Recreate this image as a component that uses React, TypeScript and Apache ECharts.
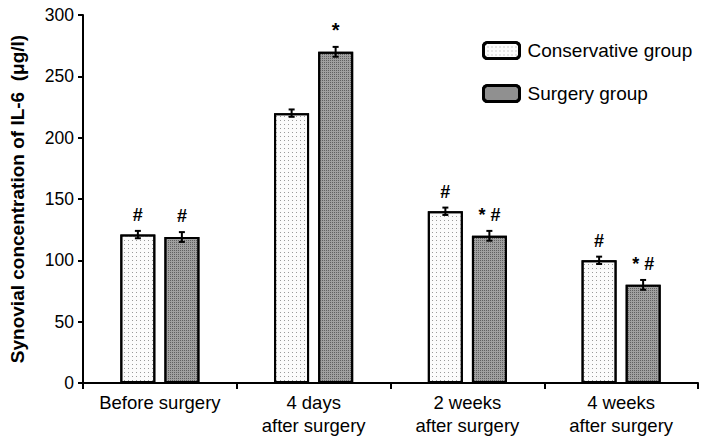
import React, { useEffect, useRef } from "react";
import * as echarts from "echarts";

const categories = ["Before surgery", "4 days\nafter surgery", "2 weeks\nafter surgery", "4 weeks\nafter surgery"];
const conservative = [121, 220, 140, 100];
const conservativeErr = [3, 3, 3, 3];
const surgery = [119, 270, 120, 80];
const surgeryErr = [4, 4, 4, 4];
const conservativeMarks = ["#", "", "#", "#"];
const surgeryMarks = ["#", "*", "* #", "* #"];
const yTicks = [0, 50, 100, 150, 200, 250, 300];

const FONT = "Liberation Sans, Arial, sans-serif";

function errorSeries(name: string, values: number[], errs: number[], offset: number) {
  return {
    type: "custom",
    name: name + "-err",
    z: 10,
    silent: true,
    renderItem: (params: any, api: any) => {
      const i = api.value(0);
      const v = api.value(1);
      const e = api.value(2);
      const top = api.coord([i, v + e]);
      const bot = api.coord([i, v - e]);
      const x = top[0] + offset;
      const cap = 3;
      const style = { stroke: "#000", lineWidth: 2 };
      return {
        type: "group",
        children: [
          { type: "line", shape: { x1: x, y1: top[1], x2: x, y2: bot[1] }, style },
          { type: "line", shape: { x1: x - cap, y1: top[1], x2: x + cap, y2: top[1] }, style },
          { type: "line", shape: { x1: x - cap, y1: bot[1], x2: x + cap, y2: bot[1] }, style },
        ],
      };
    },
    data: values.map((v, i) => [i, v, errs[i]]),
  };
}

export default function App() {
  const ref = useRef<HTMLDivElement>(null);
  useEffect(() => {
    const chart = echarts.init(ref.current!, null, { renderer: "svg" });
    const labelStyle = {
      show: true,
      position: "top",
      color: "#000",
      fontSize: 18,
      fontWeight: "bold",
      fontFamily: FONT,
    };
    chart.setOption({
      animation: false,
      backgroundColor: "#fff",
      grid: { left: 79, right: 10, top: 15, bottom: 64 },
      legend: {
        orient: "vertical",
        left: 477,
        top: 36,
        itemWidth: 36,
        itemHeight: 16,
        itemGap: 24,
        itemStyle: { borderWidth: 3 },
        textStyle: { fontSize: 19, fontFamily: FONT, color: "#000", padding: [0, 0, 0, 3] },
        data: ["Conservative group", "Surgery group"],
      },
      xAxis: {
        type: "category",
        data: categories,
        axisLine: { lineStyle: { color: "#000", width: 2 } },
        axisTick: { show: true, length: 6, lineStyle: { color: "#000", width: 2 } },
        axisLabel: { interval: 0, color: "#000", fontSize: 18.5, fontFamily: FONT, margin: 8, lineHeight: 23 },
      },
      yAxis: {
        type: "value",
        min: 0,
        max: 300,
        interval: 50,
        name: "Synovial concentration of IL-6  (μg/l)",
        nameLocation: "middle",
        nameGap: 56,
        nameRotate: 90,
        nameTextStyle: { color: "#000", fontSize: 19, fontWeight: "bold", fontFamily: FONT },
        splitLine: { show: false },
        axisLine: { show: true, lineStyle: { color: "#000", width: 2 } },
        axisTick: { show: true, length: 5, lineStyle: { color: "#000", width: 2 } },
        axisLabel: {
          color: "#000",
          fontSize: 17.5,
          fontFamily: FONT,
          margin: 9,
          formatter: (v: number) => (yTicks.includes(v) ? String(v) : ""),
        },
      },
      series: [
        {
          type: "bar",
          name: "Conservative group",
          barWidth: 35,
          barGap: "26%",
          itemStyle: {
            color: "#fbfbfb",
            borderColor: "#000",
            borderWidth: 2,
            decal: {
              symbol: "rect",
              symbolSize: 1,
              color: "#9a9a9a",
              dashArrayX: [1, 3],
              dashArrayY: [1, 3],
              rotation: 0,
            },
          },
          label: labelStyle,
          data: conservative.map((v, i) => ({
            value: v,
            label: { formatter: conservativeMarks[i], distance: 7 + conservativeErr[i] * 1.2267 },
          })),
        },
        {
          type: "bar",
          name: "Surgery group",
          barWidth: 35,
          itemStyle: {
            color: "#a0a0a0",
            borderColor: "#000",
            borderWidth: 2,
            decal: {
              symbol: "rect",
              symbolSize: 1,
              color: "#606060",
              dashArrayX: [1, 1],
              dashArrayY: [1, 1],
              rotation: 0,
            },
          },
          label: labelStyle,
          data: surgery.map((v, i) => ({
            value: v,
            label: {
              formatter: surgeryMarks[i],
              distance: 7 + surgeryErr[i] * 1.2267,
              fontSize: surgeryMarks[i] === "*" ? 20 : 18,
            },
          })),
        },
        errorSeries("Conservative group", conservative, conservativeErr, -22),
        errorSeries("Surgery group", surgery, surgeryErr, 22),
      ],
    });
    return () => chart.dispose();
  }, []);
  return <div ref={ref} style={{ width: 708, height: 447, margin: -8 }} />;
}
